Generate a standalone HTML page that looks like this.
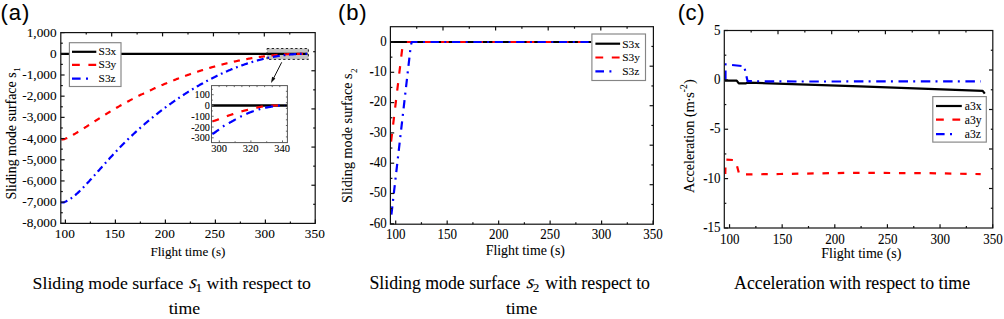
<!DOCTYPE html><html><head><meta charset="utf-8"><style>html,body{margin:0;padding:0;background:#fff;overflow:hidden}svg{display:block}</style></head><body>
<svg width="1004" height="319" viewBox="0 0 1004 319">
<style>text{stroke:#000;stroke-width:0.08px;}</style>
<rect width="1004" height="319" fill="#fff"/>
<defs><clipPath id="ca"><rect x="60.8" y="32.6" width="254.39999999999998" height="190.8"/></clipPath></defs>
<rect x="267" y="48.5" width="41.4" height="10.9" fill="#c3c3c3"/>
<path d="M60.80,53.80 L307.50,53.80" fill="none" stroke="#000000" stroke-width="2.2"  stroke-linejoin="round" clip-path="url(#ca)"/>
<path d="M60.80,139.30 L61.29,139.30 L61.79,139.30 L62.28,139.30 L62.77,139.30 L63.27,139.30 L63.76,139.27 L64.25,139.11 L64.75,138.93 L65.24,138.75 L65.73,138.55 L66.23,138.35 L66.72,138.14 L67.21,137.92 L67.71,137.70 L68.20,137.47 L68.69,137.23 L69.19,136.98 L69.68,136.73 L70.17,136.48 L70.67,136.21 L71.16,135.95 L71.65,135.68 L72.15,135.40 L72.64,135.12 L73.13,134.84 L73.63,134.55 L74.12,134.26 L74.61,133.97 L75.11,133.68 L75.60,133.38 L76.09,133.08 L76.59,132.79 L77.08,132.49 L77.58,132.19 L78.07,131.88 L78.56,131.58 L79.06,131.28 L79.55,130.97 L80.04,130.67 L80.54,130.36 L81.03,130.05 L81.52,129.75 L82.02,129.44 L82.51,129.13 L83.00,128.82 L83.50,128.51 L83.99,128.19 L84.48,127.88 L84.98,127.57 L85.47,127.26 L85.96,126.94 L86.46,126.63 L86.95,126.31 L87.44,126.00 L87.94,125.68 L88.43,125.36 L88.92,125.05 L89.42,124.73 L89.91,124.41 L90.40,124.10 L90.90,123.78 L91.39,123.46 L91.88,123.14 L92.38,122.82 L92.87,122.51 L93.36,122.19 L93.86,121.87 L94.35,121.55 L94.84,121.23 L95.34,120.91 L95.83,120.60 L96.32,120.28 L96.82,119.96 L97.31,119.64 L97.80,119.33 L98.30,119.01 L98.79,118.70 L99.28,118.38 L99.78,118.06 L100.27,117.75 L100.76,117.43 L101.26,117.12 L101.75,116.81 L102.24,116.49 L102.74,116.18 L103.23,115.87 L103.72,115.56 L104.22,115.25 L104.71,114.94 L105.20,114.63 L105.70,114.32 L106.19,114.02 L106.68,113.71 L107.18,113.40 L107.67,113.10 L108.17,112.80 L108.66,112.49 L109.15,112.19 L109.65,111.89 L110.14,111.59 L110.63,111.29 L111.13,111.00 L111.62,110.70 L112.11,110.41 L112.61,110.11 L113.10,109.82 L113.59,109.53 L114.09,109.23 L114.58,108.94 L115.07,108.65 L115.57,108.36 L116.06,108.08 L116.55,107.79 L117.05,107.50 L117.54,107.22 L118.03,106.94 L118.53,106.65 L119.02,106.37 L119.51,106.09 L120.01,105.81 L120.50,105.53 L120.99,105.25 L121.49,104.97 L121.98,104.70 L122.47,104.42 L122.97,104.15 L123.46,103.87 L123.95,103.60 L124.45,103.33 L124.94,103.06 L125.43,102.79 L125.93,102.52 L126.42,102.25 L126.91,101.98 L127.41,101.72 L127.90,101.45 L128.39,101.19 L128.89,100.92 L129.38,100.66 L129.87,100.40 L130.37,100.14 L130.86,99.88 L131.35,99.62 L131.85,99.36 L132.34,99.10 L132.83,98.85 L133.33,98.59 L133.82,98.33 L134.31,98.08 L134.81,97.83 L135.30,97.57 L135.79,97.32 L136.29,97.07 L136.78,96.82 L137.27,96.57 L137.77,96.32 L138.26,96.08 L138.76,95.83 L139.25,95.58 L139.74,95.34 L140.24,95.09 L140.73,94.85 L141.22,94.61 L141.72,94.37 L142.21,94.12 L142.70,93.88 L143.20,93.65 L143.69,93.41 L144.18,93.17 L144.68,92.93 L145.17,92.70 L145.66,92.46 L146.16,92.23 L146.65,91.99 L147.14,91.76 L147.64,91.53 L148.13,91.29 L148.62,91.06 L149.12,90.83 L149.61,90.60 L150.10,90.38 L150.60,90.15 L151.09,89.92 L151.58,89.69 L152.08,89.47 L152.57,89.24 L153.06,89.02 L153.56,88.80 L154.05,88.57 L154.54,88.35 L155.04,88.13 L155.53,87.91 L156.02,87.69 L156.52,87.47 L157.01,87.25 L157.50,87.04 L158.00,86.82 L158.49,86.60 L158.98,86.39 L159.48,86.17 L159.97,85.96 L160.46,85.75 L160.96,85.54 L161.45,85.32 L161.94,85.11 L162.44,84.90 L162.93,84.69 L163.42,84.48 L163.92,84.27 L164.41,84.07 L164.90,83.86 L165.40,83.65 L165.89,83.45 L166.38,83.24 L166.88,83.04 L167.37,82.83 L167.86,82.63 L168.36,82.43 L168.85,82.23 L169.35,82.03 L169.84,81.83 L170.33,81.63 L170.83,81.43 L171.32,81.23 L171.81,81.03 L172.31,80.83 L172.80,80.64 L173.29,80.44 L173.79,80.25 L174.28,80.05 L174.77,79.86 L175.27,79.67 L175.76,79.47 L176.25,79.28 L176.75,79.09 L177.24,78.90 L177.73,78.71 L178.23,78.52 L178.72,78.33 L179.21,78.15 L179.71,77.96 L180.20,77.77 L180.69,77.59 L181.19,77.40 L181.68,77.22 L182.17,77.04 L182.67,76.85 L183.16,76.67 L183.65,76.49 L184.15,76.31 L184.64,76.13 L185.13,75.95 L185.63,75.77 L186.12,75.59 L186.61,75.41 L187.11,75.24 L187.60,75.06 L188.09,74.89 L188.59,74.71 L189.08,74.54 L189.57,74.36 L190.07,74.19 L190.56,74.02 L191.05,73.85 L191.55,73.68 L192.04,73.51 L192.53,73.34 L193.03,73.17 L193.52,73.00 L194.01,72.84 L194.51,72.67 L195.00,72.50 L195.49,72.34 L195.99,72.17 L196.48,72.01 L196.97,71.85 L197.47,71.69 L197.96,71.52 L198.45,71.36 L198.95,71.20 L199.44,71.04 L199.94,70.88 L200.43,70.73 L200.92,70.57 L201.42,70.41 L201.91,70.26 L202.40,70.10 L202.90,69.95 L203.39,69.79 L203.88,69.64 L204.38,69.49 L204.87,69.33 L205.36,69.18 L205.86,69.03 L206.35,68.88 L206.84,68.73 L207.34,68.59 L207.83,68.44 L208.32,68.29 L208.82,68.15 L209.31,68.00 L209.80,67.86 L210.30,67.71 L210.79,67.57 L211.28,67.43 L211.78,67.28 L212.27,67.14 L212.76,67.00 L213.26,66.86 L213.75,66.72 L214.24,66.58 L214.74,66.45 L215.23,66.31 L215.72,66.17 L216.22,66.04 L216.71,65.90 L217.20,65.77 L217.70,65.64 L218.19,65.50 L218.68,65.37 L219.18,65.24 L219.67,65.11 L220.16,64.98 L220.66,64.85 L221.15,64.72 L221.64,64.59 L222.14,64.47 L222.63,64.34 L223.12,64.22 L223.62,64.09 L224.11,63.97 L224.60,63.84 L225.10,63.72 L225.59,63.60 L226.08,63.48 L226.58,63.36 L227.07,63.24 L227.56,63.12 L228.06,63.00 L228.55,62.88 L229.04,62.77 L229.54,62.65 L230.03,62.53 L230.53,62.42 L231.02,62.31 L231.51,62.19 L232.01,62.08 L232.50,61.97 L232.99,61.86 L233.49,61.75 L233.98,61.64 L234.47,61.53 L234.97,61.42 L235.46,61.31 L235.95,61.21 L236.45,61.10 L236.94,61.00 L237.43,60.89 L237.93,60.79 L238.42,60.69 L238.91,60.58 L239.41,60.48 L239.90,60.38 L240.39,60.28 L240.89,60.18 L241.38,60.08 L241.87,59.99 L242.37,59.89 L242.86,59.79 L243.35,59.70 L243.85,59.60 L244.34,59.51 L244.83,59.41 L245.33,59.32 L245.82,59.23 L246.31,59.14 L246.81,59.05 L247.30,58.96 L247.79,58.87 L248.29,58.78 L248.78,58.69 L249.27,58.61 L249.77,58.52 L250.26,58.44 L250.75,58.35 L251.25,58.27 L251.74,58.19 L252.23,58.10 L252.73,58.02 L253.22,57.94 L253.71,57.86 L254.21,57.78 L254.70,57.70 L255.19,57.63 L255.69,57.55 L256.18,57.47 L256.67,57.40 L257.17,57.32 L257.66,57.25 L258.15,57.18 L258.65,57.10 L259.14,57.03 L259.63,56.96 L260.13,56.89 L260.62,56.82 L261.12,56.75 L261.61,56.69 L262.10,56.62 L262.60,56.55 L263.09,56.49 L263.58,56.42 L264.08,56.36 L264.57,56.30 L265.06,56.23 L265.56,56.17 L266.05,56.11 L266.54,56.05 L267.04,55.99 L267.53,55.93 L268.02,55.87 L268.52,55.82 L269.01,55.76 L269.50,55.71 L270.00,55.65 L270.49,55.60 L270.98,55.54 L271.48,55.49 L271.97,55.44 L272.46,55.39 L272.96,55.34 L273.45,55.29 L273.94,55.24 L274.44,55.19 L274.93,55.14 L275.42,55.10 L275.92,55.05 L276.41,55.01 L276.90,54.96 L277.40,54.92 L277.89,54.88 L278.38,54.84 L278.88,54.80 L279.37,54.76 L279.86,54.72 L280.36,54.68 L280.85,54.64 L281.34,54.60 L281.84,54.57 L282.33,54.53 L282.82,54.50 L283.32,54.46 L283.81,54.43 L284.30,54.40 L284.80,54.36 L285.29,54.33 L285.78,54.30 L286.28,54.27 L286.77,54.25 L287.26,54.22 L287.76,54.19 L288.25,54.17 L288.74,54.14 L289.24,54.12 L289.73,54.09 L290.22,54.07 L290.72,54.05 L291.21,54.03 L291.71,54.01 L292.20,53.99 L292.69,53.97 L293.19,53.95 L293.68,53.93 L294.17,53.91 L294.67,53.90 L295.16,53.88 L295.65,53.87 L296.15,53.86 L296.64,53.84 L297.13,53.83 L297.63,53.82 L298.12,53.81 L298.61,53.80 L299.11,53.80 L299.60,53.80 L300.09,53.80 L300.59,53.80 L301.08,53.80 L301.57,53.80 L302.07,53.80 L302.56,53.80 L303.05,53.80 L303.55,53.80 L304.04,53.80 L304.53,53.80 L305.03,53.80 L305.52,53.80 L306.01,53.80 L306.51,53.80 L307.00,53.80" fill="none" stroke="#ff0000" stroke-width="2.2" stroke-dasharray="6.2,6.5" stroke-dashoffset="-0.5" stroke-linejoin="round" clip-path="url(#ca)"/>
<path d="M60.80,202.50 L61.29,202.50 L61.79,202.50 L62.28,202.50 L62.77,202.50 L63.27,202.50 L63.76,202.41 L64.25,202.21 L64.75,202.01 L65.24,201.79 L65.73,201.57 L66.23,201.33 L66.72,201.07 L67.21,200.81 L67.71,200.54 L68.20,200.25 L68.69,199.95 L69.19,199.65 L69.68,199.33 L70.17,199.00 L70.67,198.67 L71.16,198.32 L71.65,197.97 L72.15,197.60 L72.64,197.23 L73.13,196.85 L73.63,196.46 L74.12,196.06 L74.61,195.65 L75.11,195.24 L75.60,194.82 L76.09,194.39 L76.59,193.95 L77.08,193.51 L77.58,193.06 L78.07,192.60 L78.56,192.14 L79.06,191.67 L79.55,191.20 L80.04,190.72 L80.54,190.23 L81.03,189.75 L81.52,189.25 L82.02,188.75 L82.51,188.25 L83.00,187.74 L83.50,187.23 L83.99,186.72 L84.48,186.20 L84.98,185.68 L85.47,185.16 L85.96,184.63 L86.46,184.10 L86.95,183.57 L87.44,183.03 L87.94,182.50 L88.43,181.96 L88.92,181.42 L89.42,180.89 L89.91,180.34 L90.40,179.80 L90.90,179.26 L91.39,178.72 L91.88,178.17 L92.38,177.63 L92.87,177.08 L93.36,176.53 L93.86,175.98 L94.35,175.43 L94.84,174.88 L95.34,174.33 L95.83,173.78 L96.32,173.23 L96.82,172.68 L97.31,172.13 L97.80,171.58 L98.30,171.02 L98.79,170.47 L99.28,169.92 L99.78,169.36 L100.27,168.81 L100.76,168.26 L101.26,167.70 L101.75,167.15 L102.24,166.60 L102.74,166.05 L103.23,165.49 L103.72,164.94 L104.22,164.39 L104.71,163.84 L105.20,163.29 L105.70,162.74 L106.19,162.19 L106.68,161.64 L107.18,161.09 L107.67,160.55 L108.17,160.00 L108.66,159.46 L109.15,158.91 L109.65,158.37 L110.14,157.83 L110.63,157.29 L111.13,156.75 L111.62,156.21 L112.11,155.67 L112.61,155.13 L113.10,154.60 L113.59,154.07 L114.09,153.53 L114.58,153.00 L115.07,152.48 L115.57,151.95 L116.06,151.42 L116.55,150.90 L117.05,150.38 L117.54,149.86 L118.03,149.34 L118.53,148.83 L119.02,148.31 L119.51,147.80 L120.01,147.29 L120.50,146.78 L120.99,146.28 L121.49,145.77 L121.98,145.27 L122.47,144.77 L122.97,144.27 L123.46,143.77 L123.95,143.28 L124.45,142.79 L124.94,142.29 L125.43,141.80 L125.93,141.32 L126.42,140.83 L126.91,140.35 L127.41,139.86 L127.90,139.38 L128.39,138.90 L128.89,138.43 L129.38,137.95 L129.87,137.48 L130.37,137.00 L130.86,136.53 L131.35,136.07 L131.85,135.60 L132.34,135.13 L132.83,134.67 L133.33,134.21 L133.82,133.75 L134.31,133.29 L134.81,132.83 L135.30,132.38 L135.79,131.92 L136.29,131.47 L136.78,131.02 L137.27,130.57 L137.77,130.12 L138.26,129.68 L138.76,129.24 L139.25,128.79 L139.74,128.35 L140.24,127.91 L140.73,127.48 L141.22,127.04 L141.72,126.61 L142.21,126.17 L142.70,125.74 L143.20,125.31 L143.69,124.89 L144.18,124.46 L144.68,124.03 L145.17,123.61 L145.66,123.19 L146.16,122.77 L146.65,122.35 L147.14,121.93 L147.64,121.52 L148.13,121.10 L148.62,120.69 L149.12,120.28 L149.61,119.87 L150.10,119.46 L150.60,119.05 L151.09,118.65 L151.58,118.24 L152.08,117.84 L152.57,117.44 L153.06,117.04 L153.56,116.64 L154.05,116.25 L154.54,115.85 L155.04,115.46 L155.53,115.06 L156.02,114.67 L156.52,114.28 L157.01,113.89 L157.50,113.51 L158.00,113.12 L158.49,112.74 L158.98,112.35 L159.48,111.97 L159.97,111.59 L160.46,111.21 L160.96,110.83 L161.45,110.46 L161.94,110.08 L162.44,109.71 L162.93,109.34 L163.42,108.96 L163.92,108.59 L164.41,108.23 L164.90,107.86 L165.40,107.49 L165.89,107.13 L166.38,106.76 L166.88,106.40 L167.37,106.04 L167.86,105.68 L168.36,105.32 L168.85,104.96 L169.35,104.61 L169.84,104.25 L170.33,103.90 L170.83,103.55 L171.32,103.19 L171.81,102.84 L172.31,102.49 L172.80,102.15 L173.29,101.80 L173.79,101.45 L174.28,101.11 L174.77,100.77 L175.27,100.42 L175.76,100.08 L176.25,99.74 L176.75,99.40 L177.24,99.07 L177.73,98.73 L178.23,98.39 L178.72,98.06 L179.21,97.73 L179.71,97.40 L180.20,97.07 L180.69,96.74 L181.19,96.41 L181.68,96.08 L182.17,95.76 L182.67,95.43 L183.16,95.11 L183.65,94.79 L184.15,94.47 L184.64,94.15 L185.13,93.83 L185.63,93.51 L186.12,93.19 L186.61,92.88 L187.11,92.56 L187.60,92.25 L188.09,91.94 L188.59,91.63 L189.08,91.32 L189.57,91.01 L190.07,90.71 L190.56,90.40 L191.05,90.10 L191.55,89.79 L192.04,89.49 L192.53,89.19 L193.03,88.89 L193.52,88.59 L194.01,88.30 L194.51,88.00 L195.00,87.71 L195.49,87.41 L195.99,87.12 L196.48,86.83 L196.97,86.54 L197.47,86.25 L197.96,85.97 L198.45,85.68 L198.95,85.39 L199.44,85.11 L199.94,84.83 L200.43,84.55 L200.92,84.27 L201.42,83.99 L201.91,83.71 L202.40,83.43 L202.90,83.16 L203.39,82.89 L203.88,82.61 L204.38,82.34 L204.87,82.07 L205.36,81.80 L205.86,81.53 L206.35,81.27 L206.84,81.00 L207.34,80.74 L207.83,80.48 L208.32,80.21 L208.82,79.95 L209.31,79.69 L209.80,79.44 L210.30,79.18 L210.79,78.92 L211.28,78.67 L211.78,78.42 L212.27,78.17 L212.76,77.92 L213.26,77.67 L213.75,77.42 L214.24,77.17 L214.74,76.93 L215.23,76.68 L215.72,76.44 L216.22,76.20 L216.71,75.96 L217.20,75.72 L217.70,75.48 L218.19,75.24 L218.68,75.01 L219.18,74.77 L219.67,74.54 L220.16,74.31 L220.66,74.08 L221.15,73.85 L221.64,73.62 L222.14,73.39 L222.63,73.17 L223.12,72.94 L223.62,72.72 L224.11,72.50 L224.60,72.28 L225.10,72.06 L225.59,71.84 L226.08,71.62 L226.58,71.41 L227.07,71.19 L227.56,70.98 L228.06,70.77 L228.55,70.56 L229.04,70.35 L229.54,70.14 L230.03,69.93 L230.53,69.73 L231.02,69.53 L231.51,69.32 L232.01,69.12 L232.50,68.92 L232.99,68.72 L233.49,68.52 L233.98,68.33 L234.47,68.13 L234.97,67.94 L235.46,67.75 L235.95,67.55 L236.45,67.36 L236.94,67.18 L237.43,66.99 L237.93,66.80 L238.42,66.62 L238.91,66.43 L239.41,66.25 L239.90,66.07 L240.39,65.89 L240.89,65.71 L241.38,65.54 L241.87,65.36 L242.37,65.18 L242.86,65.01 L243.35,64.84 L243.85,64.67 L244.34,64.50 L244.83,64.33 L245.33,64.16 L245.82,64.00 L246.31,63.83 L246.81,63.67 L247.30,63.51 L247.79,63.35 L248.29,63.19 L248.78,63.03 L249.27,62.88 L249.77,62.72 L250.26,62.57 L250.75,62.42 L251.25,62.26 L251.74,62.11 L252.23,61.97 L252.73,61.82 L253.22,61.67 L253.71,61.53 L254.21,61.38 L254.70,61.24 L255.19,61.10 L255.69,60.96 L256.18,60.82 L256.67,60.69 L257.17,60.55 L257.66,60.42 L258.15,60.28 L258.65,60.15 L259.14,60.02 L259.63,59.89 L260.13,59.77 L260.62,59.64 L261.12,59.52 L261.61,59.39 L262.10,59.27 L262.60,59.15 L263.09,59.03 L263.58,58.91 L264.08,58.79 L264.57,58.68 L265.06,58.56 L265.56,58.45 L266.05,58.34 L266.54,58.23 L267.04,58.12 L267.53,58.01 L268.02,57.91 L268.52,57.80 L269.01,57.70 L269.50,57.60 L270.00,57.49 L270.49,57.40 L270.98,57.30 L271.48,57.20 L271.97,57.10 L272.46,57.01 L272.96,56.92 L273.45,56.83 L273.94,56.74 L274.44,56.65 L274.93,56.56 L275.42,56.47 L275.92,56.39 L276.41,56.31 L276.90,56.22 L277.40,56.14 L277.89,56.06 L278.38,55.98 L278.88,55.91 L279.37,55.83 L279.86,55.76 L280.36,55.69 L280.85,55.62 L281.34,55.55 L281.84,55.48 L282.33,55.41 L282.82,55.34 L283.32,55.28 L283.81,55.22 L284.30,55.15 L284.80,55.09 L285.29,55.04 L285.78,54.98 L286.28,54.92 L286.77,54.87 L287.26,54.81 L287.76,54.76 L288.25,54.71 L288.74,54.66 L289.24,54.61 L289.73,54.57 L290.22,54.52 L290.72,54.48 L291.21,54.43 L291.71,54.39 L292.20,54.35 L292.69,54.32 L293.19,54.28 L293.68,54.24 L294.17,54.21 L294.67,54.18 L295.16,54.14 L295.65,54.11 L296.15,54.09 L296.64,54.06 L297.13,54.03 L297.63,54.01 L298.12,53.98 L298.61,53.96 L299.11,53.94 L299.60,53.92 L300.09,53.91 L300.59,53.89 L301.08,53.87 L301.57,53.86 L302.07,53.85 L302.56,53.84 L303.05,53.83 L303.55,53.82 L304.04,53.82 L304.53,53.81 L305.03,53.81 L305.52,53.80 L306.01,53.80 L306.51,53.80 L307.00,53.81" fill="none" stroke="#0000ff" stroke-width="2.2" stroke-dasharray="7,3.8,1.8,3.8" stroke-dashoffset="0" stroke-linejoin="round" clip-path="url(#ca)"/>
<rect x="267" y="48.5" width="41.4" height="10.9" fill="none" stroke="#222" stroke-width="1" stroke-dasharray="2.3,2.4"/>
<rect x="60.80" y="32.60" width="254.40" height="190.80" fill="none" stroke="#111" stroke-width="1.2"/>
<line x1="65.40" y1="223.40" x2="65.40" y2="219.60" stroke="#111" stroke-width="1.2" />
<line x1="115.40" y1="223.40" x2="115.40" y2="219.60" stroke="#111" stroke-width="1.2" />
<line x1="165.40" y1="223.40" x2="165.40" y2="219.60" stroke="#111" stroke-width="1.2" />
<line x1="215.40" y1="223.40" x2="215.40" y2="219.60" stroke="#111" stroke-width="1.2" />
<line x1="265.40" y1="223.40" x2="265.40" y2="219.60" stroke="#111" stroke-width="1.2" />
<line x1="315.40" y1="223.40" x2="315.40" y2="219.60" stroke="#111" stroke-width="1.2" />
<line x1="90.40" y1="223.40" x2="90.40" y2="221.40" stroke="#111" stroke-width="1.2" />
<line x1="140.40" y1="223.40" x2="140.40" y2="221.40" stroke="#111" stroke-width="1.2" />
<line x1="190.40" y1="223.40" x2="190.40" y2="221.40" stroke="#111" stroke-width="1.2" />
<line x1="240.40" y1="223.40" x2="240.40" y2="221.40" stroke="#111" stroke-width="1.2" />
<line x1="290.40" y1="223.40" x2="290.40" y2="221.40" stroke="#111" stroke-width="1.2" />
<line x1="60.80" y1="32.61" x2="64.60" y2="32.61" stroke="#111" stroke-width="1.2" />
<line x1="60.80" y1="53.80" x2="64.60" y2="53.80" stroke="#111" stroke-width="1.2" />
<line x1="60.80" y1="74.99" x2="64.60" y2="74.99" stroke="#111" stroke-width="1.2" />
<line x1="60.80" y1="96.18" x2="64.60" y2="96.18" stroke="#111" stroke-width="1.2" />
<line x1="60.80" y1="117.37" x2="64.60" y2="117.37" stroke="#111" stroke-width="1.2" />
<line x1="60.80" y1="138.56" x2="64.60" y2="138.56" stroke="#111" stroke-width="1.2" />
<line x1="60.80" y1="159.75" x2="64.60" y2="159.75" stroke="#111" stroke-width="1.2" />
<line x1="60.80" y1="180.94" x2="64.60" y2="180.94" stroke="#111" stroke-width="1.2" />
<line x1="60.80" y1="202.13" x2="64.60" y2="202.13" stroke="#111" stroke-width="1.2" />
<line x1="60.80" y1="223.32" x2="64.60" y2="223.32" stroke="#111" stroke-width="1.2" />
<line x1="60.80" y1="43.20" x2="62.80" y2="43.20" stroke="#111" stroke-width="1.2" />
<line x1="60.80" y1="64.39" x2="62.80" y2="64.39" stroke="#111" stroke-width="1.2" />
<line x1="60.80" y1="85.58" x2="62.80" y2="85.58" stroke="#111" stroke-width="1.2" />
<line x1="60.80" y1="106.78" x2="62.80" y2="106.78" stroke="#111" stroke-width="1.2" />
<line x1="60.80" y1="127.97" x2="62.80" y2="127.97" stroke="#111" stroke-width="1.2" />
<line x1="60.80" y1="149.16" x2="62.80" y2="149.16" stroke="#111" stroke-width="1.2" />
<line x1="60.80" y1="170.34" x2="62.80" y2="170.34" stroke="#111" stroke-width="1.2" />
<line x1="60.80" y1="191.54" x2="62.80" y2="191.54" stroke="#111" stroke-width="1.2" />
<line x1="60.80" y1="212.73" x2="62.80" y2="212.73" stroke="#111" stroke-width="1.2" />
<line x1="86.24" y1="32.60" x2="86.24" y2="34.60" stroke="#111" stroke-width="1.2" />
<line x1="111.68" y1="32.60" x2="111.68" y2="36.40" stroke="#111" stroke-width="1.2" />
<line x1="137.12" y1="32.60" x2="137.12" y2="34.60" stroke="#111" stroke-width="1.2" />
<line x1="162.56" y1="32.60" x2="162.56" y2="36.40" stroke="#111" stroke-width="1.2" />
<line x1="188.00" y1="32.60" x2="188.00" y2="34.60" stroke="#111" stroke-width="1.2" />
<line x1="213.44" y1="32.60" x2="213.44" y2="36.40" stroke="#111" stroke-width="1.2" />
<line x1="238.88" y1="32.60" x2="238.88" y2="34.60" stroke="#111" stroke-width="1.2" />
<line x1="264.32" y1="32.60" x2="264.32" y2="36.40" stroke="#111" stroke-width="1.2" />
<line x1="289.76" y1="32.60" x2="289.76" y2="34.60" stroke="#111" stroke-width="1.2" />
<line x1="315.20" y1="51.68" x2="313.20" y2="51.68" stroke="#111" stroke-width="1.2" />
<line x1="315.20" y1="70.76" x2="311.40" y2="70.76" stroke="#111" stroke-width="1.2" />
<line x1="315.20" y1="89.84" x2="313.20" y2="89.84" stroke="#111" stroke-width="1.2" />
<line x1="315.20" y1="108.92" x2="311.40" y2="108.92" stroke="#111" stroke-width="1.2" />
<line x1="315.20" y1="128.00" x2="313.20" y2="128.00" stroke="#111" stroke-width="1.2" />
<line x1="315.20" y1="147.08" x2="311.40" y2="147.08" stroke="#111" stroke-width="1.2" />
<line x1="315.20" y1="166.16" x2="313.20" y2="166.16" stroke="#111" stroke-width="1.2" />
<line x1="315.20" y1="185.24" x2="311.40" y2="185.24" stroke="#111" stroke-width="1.2" />
<line x1="315.20" y1="204.32" x2="313.20" y2="204.32" stroke="#111" stroke-width="1.2" />
<text transform="translate(56.60,36.66) scale(1.0,1.0)" font-family="Liberation Serif" font-size="13.3" text-anchor="end">1,000</text>
<text transform="translate(56.60,57.85) scale(1.0,1.0)" font-family="Liberation Serif" font-size="13.3" text-anchor="end">0</text>
<text transform="translate(56.60,79.04) scale(1.0,1.0)" font-family="Liberation Serif" font-size="13.3" text-anchor="end">-1,000</text>
<text transform="translate(56.60,100.23) scale(1.0,1.0)" font-family="Liberation Serif" font-size="13.3" text-anchor="end">-2,000</text>
<text transform="translate(56.60,121.42) scale(1.0,1.0)" font-family="Liberation Serif" font-size="13.3" text-anchor="end">-3,000</text>
<text transform="translate(56.60,142.61) scale(1.0,1.0)" font-family="Liberation Serif" font-size="13.3" text-anchor="end">-4,000</text>
<text transform="translate(56.60,163.80) scale(1.0,1.0)" font-family="Liberation Serif" font-size="13.3" text-anchor="end">-5,000</text>
<text transform="translate(56.60,184.99) scale(1.0,1.0)" font-family="Liberation Serif" font-size="13.3" text-anchor="end">-6,000</text>
<text transform="translate(56.60,206.18) scale(1.0,1.0)" font-family="Liberation Serif" font-size="13.3" text-anchor="end">-7,000</text>
<text transform="translate(56.60,227.37) scale(1.0,1.0)" font-family="Liberation Serif" font-size="13.3" text-anchor="end">-8,000</text>
<text transform="translate(64.80,238.00) scale(1.0,1.0)" font-family="Liberation Serif" font-size="13.3" text-anchor="middle">100</text>
<text transform="translate(114.80,238.00) scale(1.0,1.0)" font-family="Liberation Serif" font-size="13.3" text-anchor="middle">150</text>
<text transform="translate(164.80,238.00) scale(1.0,1.0)" font-family="Liberation Serif" font-size="13.3" text-anchor="middle">200</text>
<text transform="translate(214.80,238.00) scale(1.0,1.0)" font-family="Liberation Serif" font-size="13.3" text-anchor="middle">250</text>
<text transform="translate(264.80,238.00) scale(1.0,1.0)" font-family="Liberation Serif" font-size="13.3" text-anchor="middle">300</text>
<text transform="translate(314.80,238.00) scale(1.0,1.0)" font-family="Liberation Serif" font-size="13.3" text-anchor="middle">350</text>
<text x="187.90" y="256.30" font-family="Liberation Serif" font-size="13.1" text-anchor="middle" >Flight time (s)</text>
<text transform="translate(15.7,199.6) rotate(-90)" font-family="Liberation Serif" font-size="13.93">Sliding mode surface s<tspan font-size="8.7" dy="4.5" dx="0.6">1</tspan></text>
<rect x="69.4" y="42.7" width="51.6" height="43.8" fill="#fff" stroke="#858585" stroke-width="1.15"/>
<line x1="72.00" y1="51.80" x2="96.30" y2="51.80" stroke="#000000" stroke-width="2.2" />
<line x1="72.00" y1="64.90" x2="96.30" y2="64.90" stroke="#ff0000" stroke-width="2.2" stroke-dasharray="7.8,8.6"/>
<line x1="72.00" y1="78.70" x2="96.30" y2="78.70" stroke="#0000ff" stroke-width="2.2" stroke-dasharray="8.6,5.4,2,50"/>
<text x="98.60" y="55.40" font-family="Liberation Serif" font-size="11.4" text-anchor="start" >S3x</text>
<text x="98.60" y="68.00" font-family="Liberation Serif" font-size="11.4" text-anchor="start" >S3y</text>
<text x="98.60" y="82.10" font-family="Liberation Serif" font-size="11.4" text-anchor="start" >S3z</text>
<line x1="281.70" y1="62.30" x2="273.60" y2="78.20" stroke="#111" stroke-width="1" />
<polygon points="271,82.9 272.1,76.7 275.4,78.4" fill="#111"/>
<rect x="211.5" y="85.6" width="75.89999999999998" height="57.0" fill="#fff"/>
<clipPath id="ci"><rect x="211.5" y="85.6" width="75.89999999999998" height="57.0"/></clipPath>
<path d="M211.50,105.50 L287.40,105.50" fill="none" stroke="#000000" stroke-width="2.3"  stroke-linejoin="round" clip-path="url(#ci)"/>
<path d="M211.50,121.50 L211.84,121.42 L212.19,121.33 L212.53,121.25 L212.88,121.16 L213.22,121.07 L213.57,120.98 L213.91,120.89 L214.25,120.79 L214.60,120.69 L214.94,120.59 L215.29,120.48 L215.63,120.37 L215.97,120.26 L216.32,120.14 L216.66,120.02 L217.01,119.90 L217.35,119.77 L217.70,119.64 L218.04,119.51 L218.38,119.38 L218.73,119.25 L219.07,119.11 L219.42,118.98 L219.76,118.84 L220.11,118.70 L220.45,118.57 L220.79,118.43 L221.14,118.29 L221.48,118.16 L221.83,118.02 L222.17,117.89 L222.52,117.75 L222.86,117.62 L223.20,117.49 L223.55,117.36 L223.89,117.24 L224.24,117.12 L224.58,116.99 L224.92,116.87 L225.27,116.75 L225.61,116.62 L225.96,116.50 L226.30,116.38 L226.65,116.26 L226.99,116.13 L227.33,116.01 L227.68,115.89 L228.02,115.77 L228.37,115.65 L228.71,115.53 L229.06,115.41 L229.40,115.29 L229.74,115.17 L230.09,115.06 L230.43,114.94 L230.78,114.82 L231.12,114.70 L231.46,114.59 L231.81,114.47 L232.15,114.36 L232.50,114.24 L232.84,114.13 L233.19,114.02 L233.53,113.90 L233.87,113.79 L234.22,113.68 L234.56,113.57 L234.91,113.46 L235.25,113.35 L235.60,113.24 L235.94,113.12 L236.28,113.01 L236.63,112.90 L236.97,112.79 L237.32,112.68 L237.66,112.58 L238.01,112.47 L238.35,112.36 L238.69,112.25 L239.04,112.15 L239.38,112.04 L239.73,111.94 L240.07,111.83 L240.41,111.73 L240.76,111.63 L241.10,111.53 L241.45,111.43 L241.79,111.33 L242.14,111.24 L242.48,111.14 L242.82,111.05 L243.17,110.95 L243.51,110.86 L243.86,110.77 L244.20,110.68 L244.55,110.60 L244.89,110.51 L245.23,110.42 L245.58,110.34 L245.92,110.25 L246.27,110.17 L246.61,110.09 L246.95,110.00 L247.30,109.92 L247.64,109.84 L247.99,109.76 L248.33,109.68 L248.68,109.60 L249.02,109.52 L249.36,109.44 L249.71,109.36 L250.05,109.29 L250.40,109.21 L250.74,109.13 L251.09,109.05 L251.43,108.97 L251.77,108.89 L252.12,108.82 L252.46,108.74 L252.81,108.66 L253.15,108.58 L253.49,108.50 L253.84,108.42 L254.18,108.34 L254.53,108.26 L254.87,108.18 L255.22,108.09 L255.56,108.01 L255.90,107.93 L256.25,107.84 L256.59,107.76 L256.94,107.67 L257.28,107.59 L257.63,107.51 L257.97,107.43 L258.31,107.35 L258.66,107.27 L259.00,107.19 L259.35,107.12 L259.69,107.04 L260.04,106.97 L260.38,106.90 L260.72,106.83 L261.07,106.76 L261.41,106.70 L261.76,106.64 L262.10,106.58 L262.44,106.53 L262.79,106.47 L263.13,106.41 L263.48,106.36 L263.82,106.30 L264.17,106.25 L264.51,106.20 L264.85,106.15 L265.20,106.10 L265.54,106.05 L265.89,106.01 L266.23,105.96 L266.58,105.93 L266.92,105.89 L267.26,105.86 L267.61,105.83 L267.95,105.80 L268.30,105.78 L268.64,105.76 L268.98,105.74 L269.33,105.71 L269.67,105.69 L270.02,105.67 L270.36,105.65 L270.71,105.63 L271.05,105.61 L271.39,105.60 L271.74,105.58 L272.08,105.57 L272.43,105.55 L272.77,105.54 L273.12,105.53 L273.46,105.52 L273.80,105.51 L274.15,105.51 L274.49,105.50 L274.84,105.50 L275.18,105.50 L275.53,105.50 L275.87,105.50 L276.21,105.50 L276.56,105.50 L276.90,105.50 L277.25,105.50 L277.59,105.50 L277.93,105.50 L278.28,105.50 L278.62,105.50 L278.97,105.50 L279.31,105.50 L279.66,105.50 L280.00,105.50" fill="none" stroke="#ff0000" stroke-width="2.2" stroke-dasharray="6.8,8.5" stroke-dashoffset="-1" stroke-linejoin="round" clip-path="url(#ci)"/>
<path d="M211.50,134.60 L211.87,134.38 L212.24,134.16 L212.61,133.93 L212.98,133.71 L213.35,133.47 L213.72,133.24 L214.09,133.00 L214.45,132.76 L214.82,132.52 L215.19,132.27 L215.56,132.01 L215.93,131.75 L216.30,131.48 L216.67,131.20 L217.04,130.92 L217.41,130.64 L217.78,130.35 L218.15,130.06 L218.52,129.77 L218.89,129.48 L219.26,129.19 L219.63,128.90 L219.99,128.62 L220.36,128.33 L220.73,128.05 L221.10,127.78 L221.47,127.51 L221.84,127.25 L222.21,126.99 L222.58,126.74 L222.95,126.50 L223.32,126.27 L223.69,126.04 L224.06,125.82 L224.43,125.59 L224.80,125.38 L225.17,125.16 L225.54,124.95 L225.90,124.74 L226.27,124.53 L226.64,124.33 L227.01,124.13 L227.38,123.93 L227.75,123.72 L228.12,123.53 L228.49,123.33 L228.86,123.13 L229.23,122.93 L229.60,122.73 L229.97,122.53 L230.34,122.33 L230.71,122.13 L231.08,121.93 L231.44,121.73 L231.81,121.52 L232.18,121.31 L232.55,121.10 L232.92,120.89 L233.29,120.68 L233.66,120.47 L234.03,120.26 L234.40,120.05 L234.77,119.83 L235.14,119.62 L235.51,119.41 L235.88,119.20 L236.25,118.99 L236.62,118.78 L236.98,118.57 L237.35,118.36 L237.72,118.16 L238.09,117.96 L238.46,117.76 L238.83,117.56 L239.20,117.36 L239.57,117.17 L239.94,116.98 L240.31,116.79 L240.68,116.61 L241.05,116.43 L241.42,116.24 L241.79,116.06 L242.16,115.88 L242.53,115.70 L242.89,115.52 L243.26,115.34 L243.63,115.16 L244.00,114.99 L244.37,114.82 L244.74,114.64 L245.11,114.47 L245.48,114.31 L245.85,114.14 L246.22,113.97 L246.59,113.81 L246.96,113.65 L247.33,113.49 L247.70,113.33 L248.07,113.18 L248.43,113.03 L248.80,112.88 L249.17,112.73 L249.54,112.58 L249.91,112.44 L250.28,112.30 L250.65,112.16 L251.02,112.02 L251.39,111.88 L251.76,111.74 L252.13,111.60 L252.50,111.47 L252.87,111.34 L253.24,111.20 L253.61,111.07 L253.97,110.94 L254.34,110.82 L254.71,110.69 L255.08,110.57 L255.45,110.45 L255.82,110.33 L256.19,110.21 L256.56,110.09 L256.93,109.98 L257.30,109.86 L257.67,109.75 L258.04,109.64 L258.41,109.54 L258.78,109.43 L259.15,109.33 L259.52,109.23 L259.88,109.13 L260.25,109.03 L260.62,108.93 L260.99,108.84 L261.36,108.74 L261.73,108.64 L262.10,108.55 L262.47,108.46 L262.84,108.37 L263.21,108.28 L263.58,108.19 L263.95,108.10 L264.32,108.01 L264.69,107.93 L265.06,107.85 L265.42,107.76 L265.79,107.68 L266.16,107.61 L266.53,107.53 L266.90,107.46 L267.27,107.38 L267.64,107.31 L268.01,107.24 L268.38,107.17 L268.75,107.11 L269.12,107.04 L269.49,106.98 L269.86,106.92 L270.23,106.85 L270.60,106.79 L270.96,106.73 L271.33,106.66 L271.70,106.60 L272.07,106.54 L272.44,106.48 L272.81,106.42 L273.18,106.37 L273.55,106.31 L273.92,106.26 L274.29,106.20 L274.66,106.15 L275.03,106.10 L275.40,106.05 L275.77,106.00 L276.14,105.96 L276.51,105.92 L276.87,105.88 L277.24,105.84 L277.61,105.80 L277.98,105.77 L278.35,105.74 L278.72,105.71 L279.09,105.69 L279.46,105.66 L279.83,105.64 L280.20,105.61 L280.57,105.59 L280.94,105.57 L281.31,105.55 L281.68,105.53 L282.05,105.52 L282.41,105.51 L282.78,105.50 L283.15,105.50 L283.52,105.50 L283.89,105.50 L284.26,105.50 L284.63,105.50 L285.00,105.50" fill="none" stroke="#0000ff" stroke-width="2.2" stroke-dasharray="8,5,1.8,5" stroke-dashoffset="-1" stroke-linejoin="round" clip-path="url(#ci)"/>
<rect x="211.50" y="85.60" width="75.90" height="57.00" fill="none" stroke="#555" stroke-width="1.0"/>
<line x1="219.30" y1="142.60" x2="219.30" y2="140.40" stroke="#555" stroke-width="0.9" />
<line x1="250.90" y1="142.60" x2="250.90" y2="140.40" stroke="#555" stroke-width="0.9" />
<line x1="282.50" y1="142.60" x2="282.50" y2="140.40" stroke="#555" stroke-width="0.9" />
<line x1="235.10" y1="142.60" x2="235.10" y2="141.30" stroke="#555" stroke-width="0.9" />
<line x1="266.70" y1="142.60" x2="266.70" y2="141.30" stroke="#555" stroke-width="0.9" />
<line x1="211.50" y1="94.73" x2="213.70" y2="94.73" stroke="#555" stroke-width="0.9" />
<line x1="211.50" y1="105.50" x2="213.70" y2="105.50" stroke="#555" stroke-width="0.9" />
<line x1="211.50" y1="116.27" x2="213.70" y2="116.27" stroke="#555" stroke-width="0.9" />
<line x1="211.50" y1="127.04" x2="213.70" y2="127.04" stroke="#555" stroke-width="0.9" />
<line x1="211.50" y1="137.81" x2="213.70" y2="137.81" stroke="#555" stroke-width="0.9" />
<line x1="211.50" y1="89.34" x2="212.80" y2="89.34" stroke="#555" stroke-width="0.9" />
<line x1="211.50" y1="100.11" x2="212.80" y2="100.11" stroke="#555" stroke-width="0.9" />
<line x1="211.50" y1="110.89" x2="212.80" y2="110.89" stroke="#555" stroke-width="0.9" />
<line x1="211.50" y1="121.66" x2="212.80" y2="121.66" stroke="#555" stroke-width="0.9" />
<line x1="211.50" y1="132.43" x2="212.80" y2="132.43" stroke="#555" stroke-width="0.9" />
<line x1="219.09" y1="85.60" x2="219.09" y2="87.10" stroke="#555" stroke-width="0.9" />
<line x1="226.68" y1="85.60" x2="226.68" y2="87.10" stroke="#555" stroke-width="0.9" />
<line x1="234.27" y1="85.60" x2="234.27" y2="87.10" stroke="#555" stroke-width="0.9" />
<line x1="241.86" y1="85.60" x2="241.86" y2="87.10" stroke="#555" stroke-width="0.9" />
<line x1="249.45" y1="85.60" x2="249.45" y2="87.10" stroke="#555" stroke-width="0.9" />
<line x1="257.04" y1="85.60" x2="257.04" y2="87.10" stroke="#555" stroke-width="0.9" />
<line x1="264.63" y1="85.60" x2="264.63" y2="87.10" stroke="#555" stroke-width="0.9" />
<line x1="272.22" y1="85.60" x2="272.22" y2="87.10" stroke="#555" stroke-width="0.9" />
<line x1="279.81" y1="85.60" x2="279.81" y2="87.10" stroke="#555" stroke-width="0.9" />
<line x1="287.40" y1="91.30" x2="285.90" y2="91.30" stroke="#555" stroke-width="0.9" />
<line x1="287.40" y1="97.00" x2="285.90" y2="97.00" stroke="#555" stroke-width="0.9" />
<line x1="287.40" y1="102.70" x2="285.90" y2="102.70" stroke="#555" stroke-width="0.9" />
<line x1="287.40" y1="108.40" x2="285.90" y2="108.40" stroke="#555" stroke-width="0.9" />
<line x1="287.40" y1="114.10" x2="285.90" y2="114.10" stroke="#555" stroke-width="0.9" />
<line x1="287.40" y1="119.80" x2="285.90" y2="119.80" stroke="#555" stroke-width="0.9" />
<line x1="287.40" y1="125.50" x2="285.90" y2="125.50" stroke="#555" stroke-width="0.9" />
<line x1="287.40" y1="131.20" x2="285.90" y2="131.20" stroke="#555" stroke-width="0.9" />
<line x1="287.40" y1="136.90" x2="285.90" y2="136.90" stroke="#555" stroke-width="0.9" />
<text x="209.90" y="98.23" font-family="Liberation Serif" font-size="10.2" text-anchor="end" >100</text>
<text x="209.90" y="109.00" font-family="Liberation Serif" font-size="10.2" text-anchor="end" >0</text>
<text x="209.90" y="119.77" font-family="Liberation Serif" font-size="10.2" text-anchor="end" >-100</text>
<text x="209.90" y="130.54" font-family="Liberation Serif" font-size="10.2" text-anchor="end" >-200</text>
<text x="209.90" y="141.31" font-family="Liberation Serif" font-size="10.2" text-anchor="end" >-300</text>
<text x="219.00" y="152.00" font-family="Liberation Serif" font-size="10.5" text-anchor="middle" >300</text>
<text x="250.60" y="152.00" font-family="Liberation Serif" font-size="10.5" text-anchor="middle" >320</text>
<text x="282.20" y="152.00" font-family="Liberation Serif" font-size="10.5" text-anchor="middle" >340</text>
<text x="0.60" y="20.20" font-family="Liberation Sans" font-size="22" text-anchor="start" letter-spacing="0.9">(a)</text>
<clipPath id="cb"><rect x="390.4" y="26.7" width="263.0" height="197.5"/></clipPath>
<path d="M390.40,42.00 L591.31,42.00" fill="none" stroke="#000000" stroke-width="2.2"  stroke-linejoin="round" clip-path="url(#cb)"/>
<path d="M391.10,141.60 L402.60,45.50 L405.80,42.00 L591.31,42.00" fill="none" stroke="#ff0000" stroke-width="2.2" stroke-dasharray="7.7,9.4" stroke-dashoffset="0" stroke-linejoin="round" clip-path="url(#cb)"/>
<path d="M391.40,214.60 L410.80,45.50 L411.80,42.00 L591.31,42.00" fill="none" stroke="#0000ff" stroke-width="2.2" stroke-dasharray="8.3,5.5,2,5.6" stroke-dashoffset="0" stroke-linejoin="round" clip-path="url(#cb)"/>
<rect x="390.40" y="26.70" width="263.00" height="197.50" fill="none" stroke="#111" stroke-width="1.2"/>
<line x1="395.70" y1="224.20" x2="395.70" y2="220.40" stroke="#111" stroke-width="1.2" />
<line x1="447.18" y1="224.20" x2="447.18" y2="220.40" stroke="#111" stroke-width="1.2" />
<line x1="498.65" y1="224.20" x2="498.65" y2="220.40" stroke="#111" stroke-width="1.2" />
<line x1="550.12" y1="224.20" x2="550.12" y2="220.40" stroke="#111" stroke-width="1.2" />
<line x1="601.60" y1="224.20" x2="601.60" y2="220.40" stroke="#111" stroke-width="1.2" />
<line x1="653.08" y1="224.20" x2="653.08" y2="220.40" stroke="#111" stroke-width="1.2" />
<line x1="421.44" y1="224.20" x2="421.44" y2="222.20" stroke="#111" stroke-width="1.2" />
<line x1="472.91" y1="224.20" x2="472.91" y2="222.20" stroke="#111" stroke-width="1.2" />
<line x1="524.39" y1="224.20" x2="524.39" y2="222.20" stroke="#111" stroke-width="1.2" />
<line x1="575.86" y1="224.20" x2="575.86" y2="222.20" stroke="#111" stroke-width="1.2" />
<line x1="627.34" y1="224.20" x2="627.34" y2="222.20" stroke="#111" stroke-width="1.2" />
<line x1="390.40" y1="42.00" x2="394.20" y2="42.00" stroke="#111" stroke-width="1.2" />
<line x1="390.40" y1="72.30" x2="394.20" y2="72.30" stroke="#111" stroke-width="1.2" />
<line x1="390.40" y1="102.60" x2="394.20" y2="102.60" stroke="#111" stroke-width="1.2" />
<line x1="390.40" y1="132.90" x2="394.20" y2="132.90" stroke="#111" stroke-width="1.2" />
<line x1="390.40" y1="163.20" x2="394.20" y2="163.20" stroke="#111" stroke-width="1.2" />
<line x1="390.40" y1="193.50" x2="394.20" y2="193.50" stroke="#111" stroke-width="1.2" />
<line x1="390.40" y1="223.80" x2="394.20" y2="223.80" stroke="#111" stroke-width="1.2" />
<line x1="390.40" y1="57.15" x2="392.40" y2="57.15" stroke="#111" stroke-width="1.2" />
<line x1="390.40" y1="87.45" x2="392.40" y2="87.45" stroke="#111" stroke-width="1.2" />
<line x1="390.40" y1="117.75" x2="392.40" y2="117.75" stroke="#111" stroke-width="1.2" />
<line x1="390.40" y1="148.05" x2="392.40" y2="148.05" stroke="#111" stroke-width="1.2" />
<line x1="390.40" y1="178.35" x2="392.40" y2="178.35" stroke="#111" stroke-width="1.2" />
<line x1="390.40" y1="208.65" x2="392.40" y2="208.65" stroke="#111" stroke-width="1.2" />
<line x1="416.70" y1="26.70" x2="416.70" y2="28.70" stroke="#111" stroke-width="1.2" />
<line x1="443.00" y1="26.70" x2="443.00" y2="30.50" stroke="#111" stroke-width="1.2" />
<line x1="469.30" y1="26.70" x2="469.30" y2="28.70" stroke="#111" stroke-width="1.2" />
<line x1="495.60" y1="26.70" x2="495.60" y2="30.50" stroke="#111" stroke-width="1.2" />
<line x1="521.90" y1="26.70" x2="521.90" y2="28.70" stroke="#111" stroke-width="1.2" />
<line x1="548.20" y1="26.70" x2="548.20" y2="30.50" stroke="#111" stroke-width="1.2" />
<line x1="574.50" y1="26.70" x2="574.50" y2="28.70" stroke="#111" stroke-width="1.2" />
<line x1="600.80" y1="26.70" x2="600.80" y2="30.50" stroke="#111" stroke-width="1.2" />
<line x1="627.10" y1="26.70" x2="627.10" y2="28.70" stroke="#111" stroke-width="1.2" />
<line x1="653.40" y1="46.45" x2="651.40" y2="46.45" stroke="#111" stroke-width="1.2" />
<line x1="653.40" y1="66.20" x2="649.60" y2="66.20" stroke="#111" stroke-width="1.2" />
<line x1="653.40" y1="85.95" x2="651.40" y2="85.95" stroke="#111" stroke-width="1.2" />
<line x1="653.40" y1="105.70" x2="649.60" y2="105.70" stroke="#111" stroke-width="1.2" />
<line x1="653.40" y1="125.45" x2="651.40" y2="125.45" stroke="#111" stroke-width="1.2" />
<line x1="653.40" y1="145.20" x2="649.60" y2="145.20" stroke="#111" stroke-width="1.2" />
<line x1="653.40" y1="164.95" x2="651.40" y2="164.95" stroke="#111" stroke-width="1.2" />
<line x1="653.40" y1="184.70" x2="649.60" y2="184.70" stroke="#111" stroke-width="1.2" />
<line x1="653.40" y1="204.45" x2="651.40" y2="204.45" stroke="#111" stroke-width="1.2" />
<text transform="translate(386.70,45.70) scale(0.98,1.05)" font-family="Liberation Serif" font-size="13.2" text-anchor="end">0</text>
<text transform="translate(386.70,76.00) scale(0.98,1.05)" font-family="Liberation Serif" font-size="13.2" text-anchor="end">-10</text>
<text transform="translate(386.70,106.30) scale(0.98,1.05)" font-family="Liberation Serif" font-size="13.2" text-anchor="end">-20</text>
<text transform="translate(386.70,136.60) scale(0.98,1.05)" font-family="Liberation Serif" font-size="13.2" text-anchor="end">-30</text>
<text transform="translate(386.70,166.90) scale(0.98,1.05)" font-family="Liberation Serif" font-size="13.2" text-anchor="end">-40</text>
<text transform="translate(386.70,197.20) scale(0.98,1.05)" font-family="Liberation Serif" font-size="13.2" text-anchor="end">-50</text>
<text transform="translate(386.70,227.50) scale(0.98,1.05)" font-family="Liberation Serif" font-size="13.2" text-anchor="end">-60</text>
<text transform="translate(395.70,239.20) scale(0.98,1.05)" font-family="Liberation Serif" font-size="13.3" text-anchor="middle">100</text>
<text transform="translate(447.18,239.20) scale(0.98,1.05)" font-family="Liberation Serif" font-size="13.3" text-anchor="middle">150</text>
<text transform="translate(498.65,239.20) scale(0.98,1.05)" font-family="Liberation Serif" font-size="13.3" text-anchor="middle">200</text>
<text transform="translate(550.12,239.20) scale(0.98,1.05)" font-family="Liberation Serif" font-size="13.3" text-anchor="middle">250</text>
<text transform="translate(601.60,239.20) scale(0.98,1.05)" font-family="Liberation Serif" font-size="13.3" text-anchor="middle">300</text>
<text transform="translate(653.08,239.20) scale(0.98,1.05)" font-family="Liberation Serif" font-size="13.3" text-anchor="middle">350</text>
<text x="525.30" y="255.10" font-family="Liberation Serif" font-size="13.85" text-anchor="middle" >Flight time (s)</text>
<text transform="translate(352.0,203.0) rotate(-90)" font-family="Liberation Serif" font-size="14.2">Sliding mode surface s<tspan font-size="8.6" dy="4.5" dx="0.5">2</tspan></text>
<rect x="591.9" y="34" width="53.6" height="46.5" fill="#fff" stroke="#858585" stroke-width="1.15"/>
<line x1="595.40" y1="43.70" x2="620.10" y2="43.70" stroke="#000000" stroke-width="2.2" />
<line x1="595.40" y1="57.50" x2="620.10" y2="57.50" stroke="#ff0000" stroke-width="2.2" stroke-dasharray="7.8,8.6"/>
<line x1="595.40" y1="71.40" x2="620.10" y2="71.40" stroke="#0000ff" stroke-width="2.2" stroke-dasharray="8.6,5.4,2,50"/>
<text x="622.20" y="48.20" font-family="Liberation Serif" font-size="11.4" text-anchor="start" >S3x</text>
<text x="622.20" y="61.40" font-family="Liberation Serif" font-size="11.4" text-anchor="start" >S3y</text>
<text x="622.20" y="75.30" font-family="Liberation Serif" font-size="11.4" text-anchor="start" >S3z</text>
<text x="338.00" y="20.20" font-family="Liberation Sans" font-size="22" text-anchor="start" letter-spacing="0.9">(b)</text>
<clipPath id="cc"><rect x="724.3" y="30.5" width="268.5" height="197.5"/></clipPath>
<path d="M725.00,80.60 L736.70,80.60 L738.80,83.40 L746.00,83.30 L748.00,82.60 L860.00,86.30 L982.70,90.90 L984.80,93.70" fill="none" stroke="#000000" stroke-width="2.2"  stroke-linejoin="round" clip-path="url(#cc)"/>
<path d="M725.30,174.00 L725.60,159.50 L735.50,160.20 L739.30,174.50 L780.00,174.00 L852.50,172.80 L930.00,173.20 L980.70,174.10" fill="none" stroke="#ff0000" stroke-width="2.2" stroke-dasharray="6.5,8.8" stroke-dashoffset="0" stroke-linejoin="round" clip-path="url(#cc)"/>
<path d="M725.50,80.00 L725.50,64.30 L744.20,66.30 L747.60,81.20 L800.00,81.50 L980.60,81.40" fill="none" stroke="#0000ff" stroke-width="2.2" stroke-dasharray="9.5,5.2,2,5.6" stroke-dashoffset="0" stroke-linejoin="round" clip-path="url(#cc)"/>
<rect x="724.30" y="30.50" width="268.50" height="197.50" fill="none" stroke="#111" stroke-width="1.2"/>
<line x1="729.55" y1="228.00" x2="729.55" y2="224.20" stroke="#111" stroke-width="1.2" />
<line x1="782.17" y1="228.00" x2="782.17" y2="224.20" stroke="#111" stroke-width="1.2" />
<line x1="834.80" y1="228.00" x2="834.80" y2="224.20" stroke="#111" stroke-width="1.2" />
<line x1="887.42" y1="228.00" x2="887.42" y2="224.20" stroke="#111" stroke-width="1.2" />
<line x1="940.05" y1="228.00" x2="940.05" y2="224.20" stroke="#111" stroke-width="1.2" />
<line x1="992.67" y1="228.00" x2="992.67" y2="224.20" stroke="#111" stroke-width="1.2" />
<line x1="755.86" y1="228.00" x2="755.86" y2="226.00" stroke="#111" stroke-width="1.2" />
<line x1="808.49" y1="228.00" x2="808.49" y2="226.00" stroke="#111" stroke-width="1.2" />
<line x1="861.11" y1="228.00" x2="861.11" y2="226.00" stroke="#111" stroke-width="1.2" />
<line x1="913.74" y1="228.00" x2="913.74" y2="226.00" stroke="#111" stroke-width="1.2" />
<line x1="966.36" y1="228.00" x2="966.36" y2="226.00" stroke="#111" stroke-width="1.2" />
<line x1="724.30" y1="30.50" x2="728.10" y2="30.50" stroke="#111" stroke-width="1.2" />
<line x1="724.30" y1="79.88" x2="728.10" y2="79.88" stroke="#111" stroke-width="1.2" />
<line x1="724.30" y1="129.25" x2="728.10" y2="129.25" stroke="#111" stroke-width="1.2" />
<line x1="724.30" y1="178.62" x2="728.10" y2="178.62" stroke="#111" stroke-width="1.2" />
<line x1="724.30" y1="228.00" x2="728.10" y2="228.00" stroke="#111" stroke-width="1.2" />
<line x1="724.30" y1="55.19" x2="726.30" y2="55.19" stroke="#111" stroke-width="1.2" />
<line x1="724.30" y1="104.56" x2="726.30" y2="104.56" stroke="#111" stroke-width="1.2" />
<line x1="724.30" y1="153.94" x2="726.30" y2="153.94" stroke="#111" stroke-width="1.2" />
<line x1="724.30" y1="203.31" x2="726.30" y2="203.31" stroke="#111" stroke-width="1.2" />
<line x1="751.15" y1="30.50" x2="751.15" y2="32.50" stroke="#111" stroke-width="1.2" />
<line x1="778.00" y1="30.50" x2="778.00" y2="34.30" stroke="#111" stroke-width="1.2" />
<line x1="804.85" y1="30.50" x2="804.85" y2="32.50" stroke="#111" stroke-width="1.2" />
<line x1="831.70" y1="30.50" x2="831.70" y2="34.30" stroke="#111" stroke-width="1.2" />
<line x1="858.55" y1="30.50" x2="858.55" y2="32.50" stroke="#111" stroke-width="1.2" />
<line x1="885.40" y1="30.50" x2="885.40" y2="34.30" stroke="#111" stroke-width="1.2" />
<line x1="912.25" y1="30.50" x2="912.25" y2="32.50" stroke="#111" stroke-width="1.2" />
<line x1="939.10" y1="30.50" x2="939.10" y2="34.30" stroke="#111" stroke-width="1.2" />
<line x1="965.95" y1="30.50" x2="965.95" y2="32.50" stroke="#111" stroke-width="1.2" />
<line x1="992.80" y1="50.25" x2="990.80" y2="50.25" stroke="#111" stroke-width="1.2" />
<line x1="992.80" y1="70.00" x2="989.00" y2="70.00" stroke="#111" stroke-width="1.2" />
<line x1="992.80" y1="89.75" x2="990.80" y2="89.75" stroke="#111" stroke-width="1.2" />
<line x1="992.80" y1="109.50" x2="989.00" y2="109.50" stroke="#111" stroke-width="1.2" />
<line x1="992.80" y1="129.25" x2="990.80" y2="129.25" stroke="#111" stroke-width="1.2" />
<line x1="992.80" y1="149.00" x2="989.00" y2="149.00" stroke="#111" stroke-width="1.2" />
<line x1="992.80" y1="168.75" x2="990.80" y2="168.75" stroke="#111" stroke-width="1.2" />
<line x1="992.80" y1="188.50" x2="989.00" y2="188.50" stroke="#111" stroke-width="1.2" />
<line x1="992.80" y1="208.25" x2="990.80" y2="208.25" stroke="#111" stroke-width="1.2" />
<text transform="translate(720.60,34.60) scale(0.98,1.05)" font-family="Liberation Serif" font-size="13.3" text-anchor="end">5</text>
<text transform="translate(720.60,83.97) scale(0.98,1.05)" font-family="Liberation Serif" font-size="13.3" text-anchor="end">0</text>
<text transform="translate(720.60,133.35) scale(0.98,1.05)" font-family="Liberation Serif" font-size="13.3" text-anchor="end">-5</text>
<text transform="translate(720.60,182.72) scale(0.98,1.05)" font-family="Liberation Serif" font-size="13.3" text-anchor="end">-10</text>
<text transform="translate(720.60,232.10) scale(0.98,1.05)" font-family="Liberation Serif" font-size="13.3" text-anchor="end">-15</text>
<text transform="translate(729.85,243.50) scale(0.98,1.05)" font-family="Liberation Serif" font-size="13.3" text-anchor="middle">100</text>
<text transform="translate(782.47,243.50) scale(0.98,1.05)" font-family="Liberation Serif" font-size="13.3" text-anchor="middle">150</text>
<text transform="translate(835.10,243.50) scale(0.98,1.05)" font-family="Liberation Serif" font-size="13.3" text-anchor="middle">200</text>
<text transform="translate(887.72,243.50) scale(0.98,1.05)" font-family="Liberation Serif" font-size="13.3" text-anchor="middle">250</text>
<text transform="translate(940.35,243.50) scale(0.98,1.05)" font-family="Liberation Serif" font-size="13.3" text-anchor="middle">300</text>
<text transform="translate(992.97,243.50) scale(0.98,1.05)" font-family="Liberation Serif" font-size="13.3" text-anchor="middle">350</text>
<text x="861.30" y="258.00" font-family="Liberation Serif" font-size="14.0" text-anchor="middle" >Flight time (s)</text>
<text transform="translate(694.4,193.1) rotate(-90)" font-family="Liberation Serif" font-size="14.2">Acceleration (m<tspan dx="-0.6">·</tspan><tspan dx="-0.6">s</tspan><tspan font-size="9.5" dy="-7">-2</tspan><tspan dy="7" dx="0.3">)</tspan></text>
<rect x="932.8" y="96.6" width="53.5" height="45.5" fill="#fff" stroke="#858585" stroke-width="1.15"/>
<line x1="936.00" y1="106.00" x2="961.80" y2="106.00" stroke="#000000" stroke-width="2.2" />
<line x1="936.00" y1="119.70" x2="961.80" y2="119.70" stroke="#ff0000" stroke-width="2.2" stroke-dasharray="7.8,8.6"/>
<line x1="936.00" y1="134.20" x2="961.80" y2="134.20" stroke="#0000ff" stroke-width="2.2" stroke-dasharray="8.6,5.4,2,50"/>
<text x="964.80" y="110.00" font-family="Liberation Serif" font-size="11.6" text-anchor="start" >a3x</text>
<text x="964.80" y="124.00" font-family="Liberation Serif" font-size="11.6" text-anchor="start" >a3y</text>
<text x="964.80" y="138.00" font-family="Liberation Serif" font-size="11.6" text-anchor="start" >a3z</text>
<text x="677.70" y="20.20" font-family="Liberation Sans" font-size="22" text-anchor="start" letter-spacing="0.6">(c)</text>
<text x="32.60" y="289.00" font-family="Liberation Serif" font-size="17.75" text-anchor="start" >Sliding mode surface</text>
<text transform="translate(189.10,288.40) skewX(-8)" font-family="Liberation Serif" font-size="18.5" style="font-style:italic">s</text>
<text x="195.60" y="292.40" font-family="Liberation Serif" font-size="13.2" text-anchor="start" >1</text>
<text x="206.50" y="289.00" font-family="Liberation Serif" font-size="17.75" text-anchor="start" >with respect to</text>
<text x="184.40" y="314.30" font-family="Liberation Serif" font-size="17.7" text-anchor="middle" >time</text>
<text x="369.40" y="289.00" font-family="Liberation Serif" font-size="17.8" text-anchor="start" >Sliding mode surface</text>
<text transform="translate(526.30,288.40) skewX(-8)" font-family="Liberation Serif" font-size="18.5" style="font-style:italic">s</text>
<text x="532.80" y="292.40" font-family="Liberation Serif" font-size="13.2" text-anchor="start" >2</text>
<text x="545.30" y="289.00" font-family="Liberation Serif" font-size="17.8" text-anchor="start" >with respect to</text>
<text x="521.60" y="314.30" font-family="Liberation Serif" font-size="17.7" text-anchor="middle" >time</text>
<text x="852.10" y="289.10" font-family="Liberation Serif" font-size="17.8" text-anchor="middle" >Acceleration with respect to time</text>
</svg></body></html>
